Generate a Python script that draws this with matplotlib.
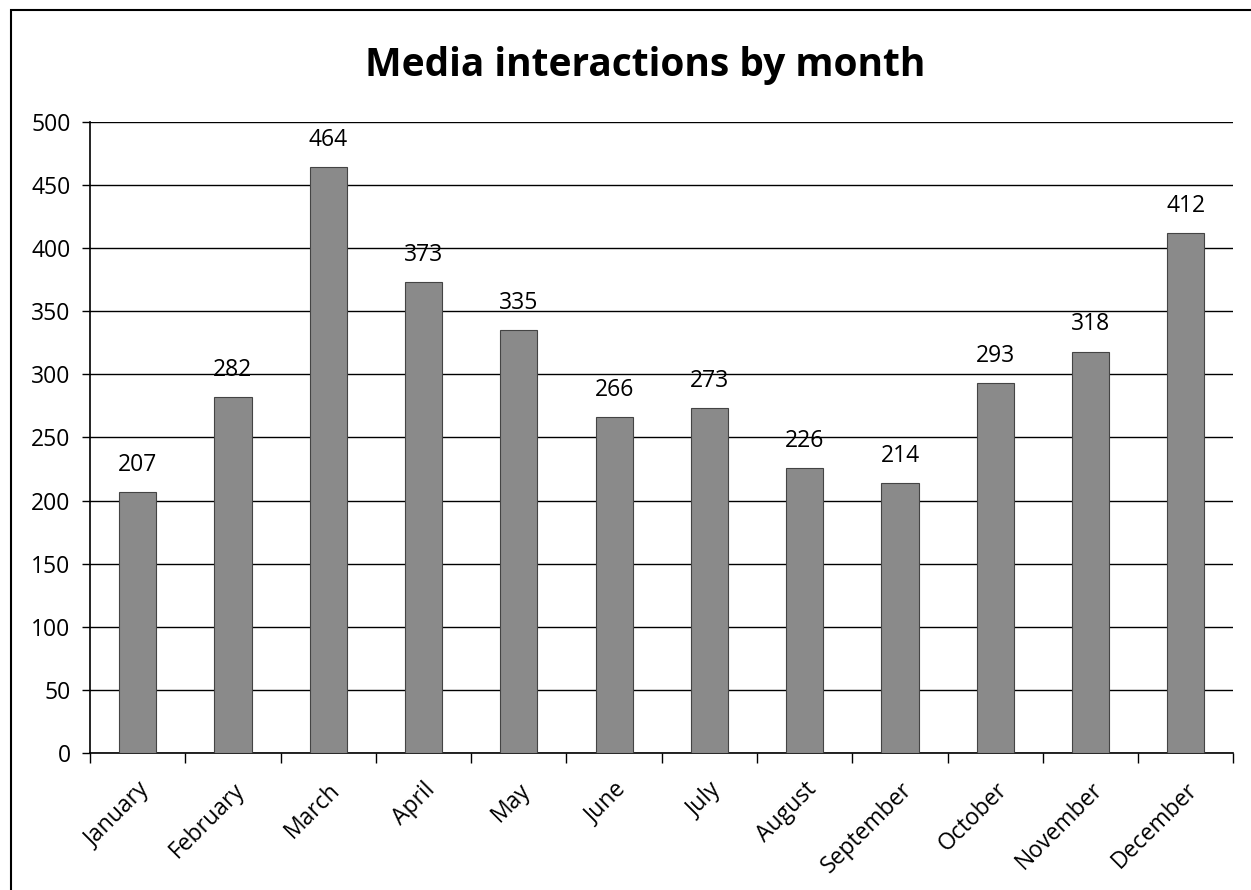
import matplotlib.pyplot as plt
from matplotlib.patches import Rectangle
import numpy as np

months = ['January', 'February', 'March', 'April', 'May', 'June', 'July',
          'August', 'September', 'October', 'November', 'December']
interactions = [207, 282, 464, 373, 335, 266, 273, 226, 214, 293, 318, 412]
yticks = [0, 50, 100, 150, 200, 250, 300, 350, 400, 450, 500]

plt.rcParams['font.family'] = ['Open Sans', 'DejaVu Sans']

fig = plt.figure(figsize=(12.51, 8.9), dpi=100)
ax = fig.add_axes([0.072, 0.154, 0.914, 0.709])

x = np.arange(len(months))
ax.bar(x, interactions, width=0.39, color='#8a8a8a', edgecolor='#444444',
       linewidth=0.8, zorder=3)
for xi, v in zip(x, interactions):
    ax.text(xi, v + 12, str(v), ha='center', va='bottom', fontsize=16.5)

ax.set_ylim(0, 500)
ax.set_xlim(-0.5, len(months) - 0.5)
ax.set_yticks(yticks)
ax.yaxis.grid(True, color='black', linewidth=1.0, zorder=0)
ax.set_axisbelow(True)

# category ticks sit between the bars
ax.set_xticks(np.arange(-0.5, len(months), 1.0))
ax.set_xticklabels([])
ax.set_xticks(x, minor=True)
ax.set_xticklabels(months, minor=True, rotation=45, ha='right',
                   rotation_mode='anchor', fontsize=16.5)
ax.tick_params(axis='x', which='minor', length=0, pad=18)
ax.tick_params(axis='x', which='major', length=7, direction='out', width=1)
ax.tick_params(axis='y', length=6, width=1, labelsize=16.5, pad=8)

for side in ['top', 'right']:
    ax.spines[side].set_visible(False)
ax.spines['left'].set_linewidth(1.2)
ax.spines['bottom'].set_linewidth(1.2)

fig.text(0.516, 0.926, 'Media interactions by month', ha='center', va='center',
         fontsize=28, fontweight='bold')

# outer chart border
fig.patches.append(Rectangle((0.0088, -0.02), 1.02, 1.009, transform=fig.transFigure,
                             fill=False, edgecolor='black', linewidth=1.5))

fig.savefig('out.png', dpi=100)
